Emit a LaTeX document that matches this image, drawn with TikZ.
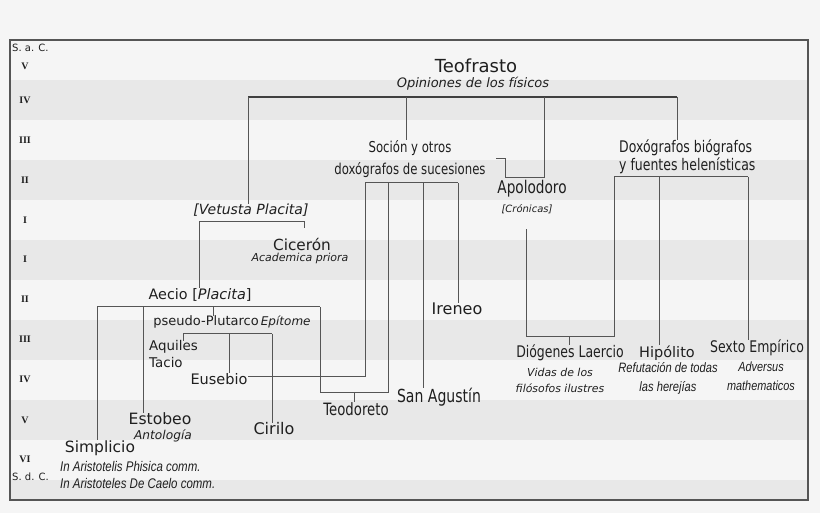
\documentclass[tikz,border=0pt]{standalone}
\usepackage{fontspec}
\setmainfont{DejaVu Sans}
\newfontfamily\condfont[FakeStretch=0.78]{DejaVu Sans}
\newfontfamily\narrowfont[FakeStretch=0.82]{Liberation Sans}
\newfontfamily\romfont{Liberation Serif}
\newcommand\fs[1]{\fontsize{#1}{#1}\selectfont}
\definecolor{bgcol}{HTML}{F5F5F5}
\definecolor{bandcol}{HTML}{E8E8E8}
\definecolor{linecol}{HTML}{555555}

\begin{document}
\begin{tikzpicture}[x=1pt, y=-1pt,
    every node/.style={inner sep=0pt, text=black!88},
    cent/.style={font=\romfont\bfseries\fs{10}},
    era/.style={anchor=west, font=\fs{10}},
    link/.style={draw=linecol, line width=1pt},
    topbar/.style={draw=black!75, line width=2pt}]
    \fill[bgcol] (0,0) rectangle (820,513);
    \useasboundingbox (0,0) rectangle (820,513);
    % centuries
    \foreach \y in {80,160,240,320,400}
        \fill[bandcol] (10,\y) rectangle (808,\y+40);
    \fill[bandcol] (10,480) rectangle (808,500);
    \draw[linecol, line width=1.2pt] (10,40) rectangle (808,500);
    \node[era] (sac) at (12,48) {S. a. C.};
    \node[era] (sdc) at (12,477) {S. d. C.};
    \foreach \y/\c [count=\i] in {66/V, 100/IV, 140/III, 180/II, 220/I, 259/I,
        299/II, 339/III, 379/IV, 420/V, 459/VI}
        \node[cent] (c\i) at (25,\y) {\c};

    % authors
    \begin{scope}
        \node[font=\fs{18}] (teo) at (476,66) {Teofrasto};
        \node[font=\itshape\fs{13}] (teoW) at (473,84) {Opiniones de los físicos};
        \node[font=\condfont\fontsize{15}{22}\selectfont, align=center] (soc) at (410,159)
            {Soción y otros\\doxógrafos de sucesiones};
        \node[font=\condfont\fontsize{16}{18}\selectfont, align=left, anchor=west] (dox) at (619,157)
            {Doxógrafos biógrafos\\y fuentes helenísticas};
        \node[font=\condfont\fs{17.5}] (apo) at (532,189) {Apolodoro};
        \node[font=\itshape\fs{10}] (apoW) at (527,209) {[Crónicas]};
        \node[font=\itshape\fs{14}] (vet) at (251,210) {[Vetusta Placita]};
        \node[font=\fs{15.3}] (cic) at (302,244) {Cicerón};
        \node[font=\itshape\fs{11}] (cicW) at (300,258) {Academica priora};
        \node[font=\fs{14.4}] (aec) at (200,295) {Aecio [\textit{Placita}]};
        \node[font=\fs{16}] (ire) at (457,309) {Ireneo};
        \node[font=\fs{13}] (psp) at (232,322) {pseudo-Plutarco\,{\itshape\fs{12}Epítome}};
        \node[font=\fontsize{13.4}{17}\selectfont, align=left, anchor=west] (aqu) at (149,354)
            {Aquiles\\Tacio};
        \node[font=\fs{14.5}] (eus) at (219,379) {Eusebio};
        \node[font=\condfont\fs{18}] (sag) at (439,397) {San Agustín};
        \node[font=\condfont\fs{17}] (teod) at (356,409) {Teodoreto};
        \node[font=\fs{15.6}] (est) at (160,419) {Estobeo};
        \node[font=\itshape\fs{12.2}] (estW) at (163,436) {Antología};
        \node[font=\fs{16}] (cir) at (274,429) {Cirilo};
        \node[font=\fs{15.5}] (sim) at (100,448) {Simplicio};
        \node[font=\narrowfont\itshape\fontsize{14}{17}\selectfont, align=left, anchor=west] (simW) at (60,475)
            {In Aristotelis Phisica comm.\\In Aristoteles De Caelo comm.};
        \node[font=\condfont\fs{16}] (dio) at (570,353) {Diógenes Laercio};
        \node[font=\itshape\fontsize{10.9}{16}\selectfont, align=center] (dioW) at (560,380)
            {Vidas de los\\filósofos ilustres};
        \node[font=\fs{14.5}] (hip) at (667,353) {Hipólito};
        \node[font=\narrowfont\itshape\fontsize{13.6}{19}\selectfont, align=center] (hipW) at (668,378)
            {Refutación de todas\\las herejías};
        \node[font=\condfont\fs{16}] (sex) at (757,348) {Sexto Empírico};
        \node[font=\narrowfont\itshape\fontsize{13.3}{19}\selectfont, align=center] (sexW) at (761,376)
            {Adversus\\mathematicos};
    \end{scope}

    % lines of descent
    \coordinate (barL) at (248,97);
    \coordinate (barR) at (677,97);
    \coordinate (barS) at (406,97);
    \coordinate (barA) at (544,97);
    \draw[topbar] (barL) -- (barR);
    \draw[link] (barL) -- (barL |- vet.north);
    \draw[link] (barS) -- (barS |- soc.north);
    \draw[link] (barR) -- (barR |- dox.north);
    \draw[link] (barA) -- (544,178) -- (505,178) -- (505,159) -- (496,159);

    \coordinate (socL) at (365,183);
    \coordinate (socT) at (388,183);
    \coordinate (socA) at (423,183);
    \coordinate (socI) at (458,183);
    \draw[link] (socL) -- (socI);
    \draw[link] (socI) -- (socI |- ire.north);
    \draw[link] (socA) -- (socA |- sag.north);
    \draw[link] (socT) -- (388,392) -- (320,392) -- (320,307);
    \draw[link] (354,392) -- (354,0 |- teod.north);
    \draw[link] (socL) -- (365,376) -- (eus.east |- 0,376);

    \coordinate (vetJ) at (199,222);
    \draw[link] (vetJ) -- (304,222) -- ++(0,6);
    \draw[link] (vetJ) -- (vetJ |- aec.north);

    \coordinate (aecL) at (97,307);
    \draw[link] (aecL) -- (320,307);
    \draw[link] (aecL) -- (aecL |- sim.north);
    \draw[link] (143,307) -- (143,0 |- est.north);
    \draw[link] (213,307) -- (213,0 |- psp.north);

    \coordinate (pspJ) at (183,334);
    \draw[link] (pspJ) -- (272,334);
    \draw[link] (pspJ) -- ++(0,7);
    \draw[link] (229,334) -- (229,0 |- eus.north);
    \draw[link] (272,334) -- (272,0 |- cir.north);

    \coordinate (doxJ) at (614,177);
    \coordinate (apoJ) at (526,229);
    \draw[link] (doxJ) -- (748,177);
    \draw[link] (doxJ) -- (614,337) -- (526,337) -- (apoJ);
    \draw[link] (569,337) -- (569,0 |- dio.north);
    \draw[link] (659,177) -- (659,0 |- hip.north);
    \draw[link] (748,177) -- (748,0 |- sex.north);
\end{tikzpicture}
\end{document}
